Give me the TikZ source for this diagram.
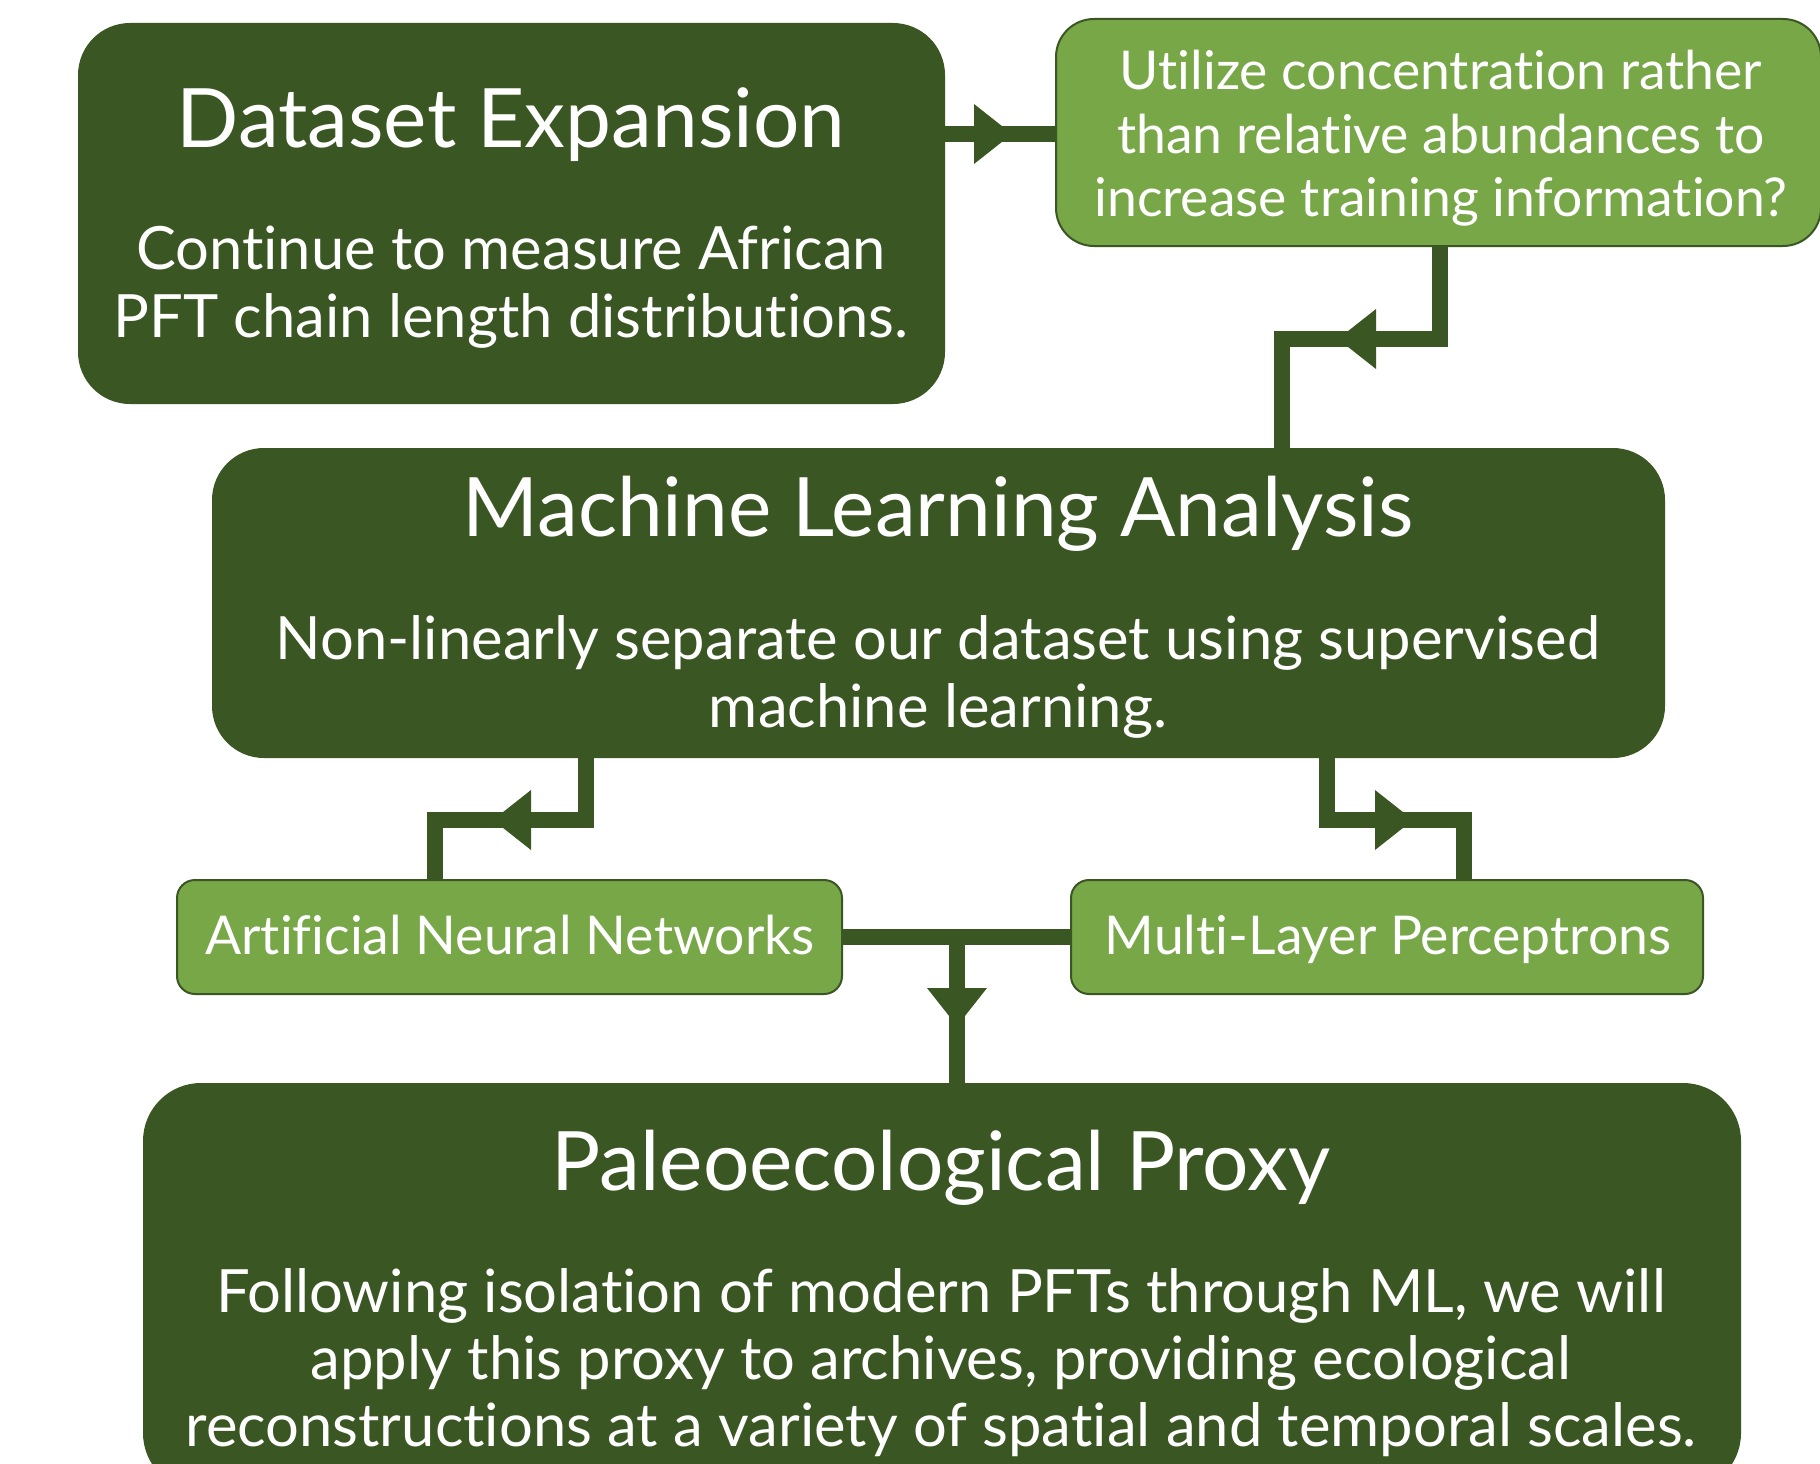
\documentclass[tikz,border=0pt]{standalone}
\usepackage{fontspec}
\setmainfont{Lato}[Ligatures=NoCommon]
\definecolor{dkgreen}{RGB}{58,86,34}
\definecolor{ltgreen}{RGB}{120,167,72}
\begin{document}
\begin{tikzpicture}[x=1pt,y=-1pt,
  bigbox/.style={rectangle, fill=dkgreen, rounded corners=52pt, inner sep=0pt, outer sep=0pt},
  smallbox/.style={rectangle, fill=ltgreen, draw=dkgreen, line width=2pt, inner sep=0pt, outer sep=0pt},
  title/.style={text=white, anchor=base, inner sep=0pt, font=\fontsize{82}{96}\selectfont},
  body/.style={text=white, anchor=base, inner sep=0pt, font=\fontsize{59.7}{70}\selectfont},
  small/.style={text=white, anchor=base, inner sep=0pt, font=\fontsize{53.5}{64}\selectfont},
  conn/.style={draw=dkgreen, line width=16pt, line join=miter, line cap=butt},
  tri/.style={fill=dkgreen}
]
\useasboundingbox (0,0) rectangle (1820,1464);
\fill[white] (0,0) rectangle (1820,1464);

% boxes
\node[bigbox, minimum width=867pt, minimum height=381pt] (ds) at (511.5,213.5) {};
\node[smallbox, rounded corners=38pt, minimum width=765pt, minimum height=227pt] (tr) at (1438.5,132.5) {};
\node[bigbox, minimum width=1453pt, minimum height=310pt] (ml) at (938.5,603) {};
\node[smallbox, rounded corners=18pt, minimum width=665pt, minimum height=114pt] (ann) at (509.5,937) {};
\node[smallbox, rounded corners=18pt, minimum width=632pt, minimum height=114pt] (mlp) at (1387,937) {};
\node[bigbox, rounded corners=58pt, minimum width=1598pt, minimum height=408pt] (pa) at (942,1287) {};

% texts
\node[title] (dst) at (511,147) {Dataset Expansion};
\node[body] (dsb1) at (511,269) {Continue to measure African};
\node[body] (dsb2) at (511,337) {PFT chain length distributions.};

\node[small] (tr1) at (1441,89) {Utilize concentration rather};
\node[small] (tr2) at (1441,153) {than relative abundances to};
\node[small] (tr3) at (1441,216) {increase training information?};

\node[title] (mlt) at (938,536) {Machine Learning Analysis};
\node[body] (mlb1) at (938,659) {Non-linearly separate our dataset using supervised};
\node[body] (mlb2) at (938,727) {machine learning.};

\node[small] (annt) at (510,954) {Artificial Neural Networks};
\node[small] (mlpt) at (1388,954) {Multi-Layer Perceptrons};

\node[title] (pat) at (941,1190) {Paleoecological Proxy};
\node[body] (pab1) at (941,1312) {Following isolation of modern PFTs through ML, we will};
\node[body] (pab2) at (941,1379) {apply this proxy to archives, providing ecological};
\node[body] (pab3) at (941,1446) {reconstructions at a variety of spatial and temporal scales.};

% connector 1: dataset -> top right
\coordinate (t1) at (1012,134);
\draw[conn] (ds.east |- t1) -- (t1 -| tr.west);
\fill[tri] (t1) -- ++(-38,-30) -- ++(0,60) -- cycle;

% connector 2: top right -> ML
\coordinate (c2a) at (1440,339);
\coordinate (t2) at (1338,339);
\coordinate (c2b) at (1282,339);
\draw[conn] (tr.south -| c2a) -- (c2a) -- (c2b) -- (c2b |- ml.north);
\fill[tri] (t2) -- ++(38,-30) -- ++(0,60) -- cycle;

% connector 3: ML -> ANN
\coordinate (c3a) at (586,820);
\coordinate (t3) at (493,820);
\coordinate (c3b) at (434.5,820);
\draw[conn] (ml.south -| c3a) -- (c3a) -- (c3b) -- (c3b |- ann.north);
\fill[tri] (t3) -- ++(38,-30) -- ++(0,60) -- cycle;

% connector 4: ML -> MLP
\coordinate (c4a) at (1327,820);
\coordinate (t4) at (1413,820);
\coordinate (c4b) at (1464,820);
\draw[conn] (ml.south -| c4a) -- (c4a) -- (c4b) -- (c4b |- mlp.north);
\fill[tri] (t4) -- ++(-38,-30) -- ++(0,60) -- cycle;

% connector 5: ANN + MLP -> Paleo
\draw[conn] (ann.east) -- (mlp.west);
\coordinate (j5) at (957,937);
\coordinate (t5) at (957,1026);
\draw[conn] (j5) -- (j5 |- pa.north);
\fill[tri] (t5) -- ++(-30,-38) -- ++(60,0) -- cycle;
\end{tikzpicture}
\end{document}
